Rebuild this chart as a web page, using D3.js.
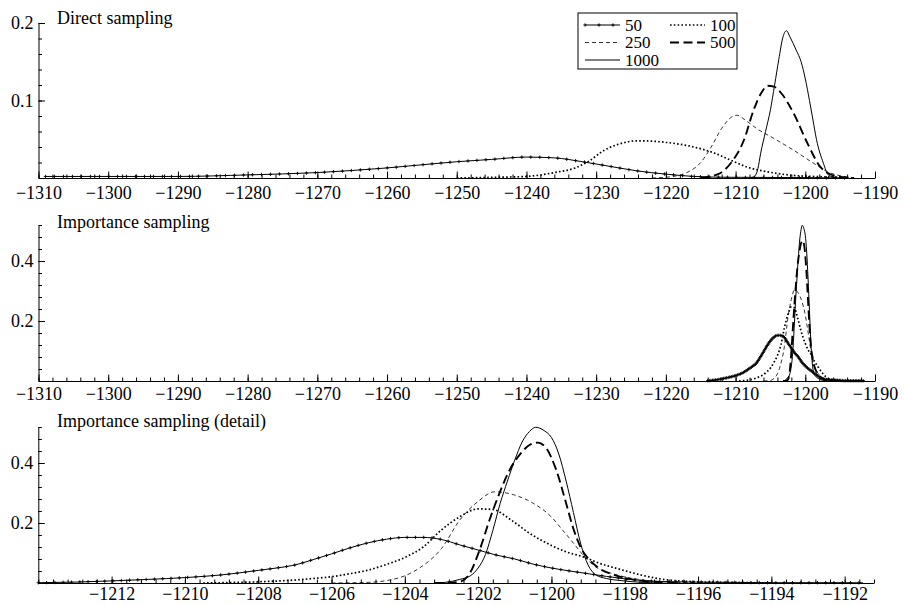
<!DOCTYPE html>
<html lang="en">
<head>
<meta charset="UTF-8">
<title>Direct vs importance sampling</title>
<script src="https://cdn.jsdelivr.net/npm/d3@7"></script>
<style>
  body { margin: 0; background: #fff; }
  .axis path, .axis line { stroke: #000; stroke-width: 1; }
  .curve { fill: none; stroke: #000; }
</style>
</head>
<body>
<svg width="904" height="605"></svg>
<script>
// sample sizes shown in the legend
const sampleSizes = ["50", "100", "250", "500", "1000"];
const panelTitles = ["Direct sampling", "Importance sampling", "Importance sampling (detail)"];

// direct sampling densities, [x, density]
const direct50 = [[-1309, 0.002], [-1300, 0.002], [-1290, 0.002], [-1280, 0.004], [-1270, 0.007],
  [-1260, 0.013], [-1250, 0.021], [-1245, 0.024], [-1240, 0.027], [-1236, 0.026], [-1232, 0.021],
  [-1228, 0.015], [-1224, 0.009], [-1220, 0.005], [-1216, 0.002], [-1212, 0.001], [-1200, 0.0005], [-1194, 0]];
const direct100 = [[-1250, 0], [-1244, 0.001], [-1240, 0.002], [-1236, 0.007], [-1233, 0.013], [-1231, 0.022],
  [-1229, 0.035], [-1227, 0.043], [-1224, 0.048], [-1220, 0.046], [-1216, 0.04], [-1213, 0.032],
  [-1210.7, 0.023], [-1208.3, 0.014], [-1205.4, 0.008], [-1202.5, 0.004], [-1199, 0.002], [-1195, 0.001], [-1193, 0]];
const direct250 = [[-1222, 0], [-1219, 0.002], [-1217, 0.007], [-1215, 0.02], [-1213.5, 0.04], [-1212, 0.064],
  [-1210.5, 0.079], [-1209.8, 0.081], [-1208.5, 0.074], [-1207, 0.064], [-1204.5, 0.051], [-1201.7, 0.036],
  [-1198.8, 0.019], [-1196.8, 0.008], [-1194.5, 0.002], [-1193, 0]];
const direct500 = [[-1215, 0], [-1212.5, 0.005], [-1210.7, 0.019], [-1208.8, 0.049], [-1207.4, 0.088],
  [-1206.3, 0.11], [-1205.4, 0.119], [-1204.5, 0.118], [-1203.5, 0.11], [-1201.7, 0.084], [-1199.7, 0.045],
  [-1197.8, 0.014], [-1195.4, 0.002], [-1193, 0]];
const direct1000 = [[-1208, 0], [-1207.3, 0.002], [-1206.8, 0.012], [-1206.4, 0.032], [-1205.7, 0.06],
  [-1205, 0.088], [-1204.4, 0.12], [-1203.8, 0.153], [-1203.2, 0.182], [-1202.7, 0.19], [-1202.2, 0.182],
  [-1201.3, 0.165], [-1200.6, 0.15], [-1200, 0.128], [-1199.4, 0.1], [-1198.9, 0.075], [-1198.4, 0.05],
  [-1197.4, 0.019], [-1196.7, 0.004], [-1195.5, 0]];

// importance sampling densities, [x, density]
const imp50 = [[-1214, 0.001], [-1213, 0.003], [-1212, 0.007], [-1211, 0.012], [-1210, 0.018], [-1209, 0.027],
  [-1208, 0.042], [-1207.5, 0.05], [-1207, 0.06], [-1206.5, 0.078], [-1206, 0.097], [-1205.5, 0.117],
  [-1205, 0.134], [-1204.5, 0.146], [-1204, 0.152], [-1203.5, 0.152], [-1203, 0.145], [-1202.5, 0.127],
  [-1202, 0.11], [-1201.5, 0.093], [-1201, 0.08], [-1200.5, 0.063], [-1200, 0.05], [-1199.5, 0.04],
  [-1199, 0.031], [-1198.5, 0.022], [-1198, 0.014], [-1197.5, 0.008], [-1197, 0.005], [-1196, 0.003],
  [-1195, 0.002], [-1194, 0.001], [-1192, 0.001], [-1191.5, 0.0005]];
const imp100 = [[-1209.5, 0], [-1209, 0.001], [-1208, 0.004], [-1207, 0.01], [-1206.5, 0.015], [-1206, 0.021],
  [-1205.5, 0.031], [-1205, 0.043], [-1204.5, 0.062], [-1204, 0.085], [-1203.5, 0.12], [-1203, 0.177],
  [-1202.5, 0.221], [-1202, 0.247], [-1201.6, 0.245], [-1201.1, 0.21], [-1200.6, 0.166], [-1200, 0.125],
  [-1199.6, 0.104], [-1199.1, 0.086], [-1198.7, 0.066], [-1198.2, 0.048], [-1197.5, 0.025], [-1197, 0.013],
  [-1196.5, 0.007], [-1196, 0.004], [-1195, 0.002], [-1194, 0]];
const imp250 = [[-1206, 0], [-1205, 0.002], [-1204.5, 0.008], [-1204, 0.024], [-1203.6, 0.05], [-1203, 0.115],
  [-1202.5, 0.21], [-1202, 0.272], [-1201.55, 0.304], [-1201, 0.293], [-1200.5, 0.266], [-1200, 0.22],
  [-1199.7, 0.177], [-1199.4, 0.133], [-1199.1, 0.088], [-1198.8, 0.054], [-1198.3, 0.03], [-1197.5, 0.01],
  [-1197, 0.004], [-1196, 0.001], [-1195.5, 0]];
const imp500 = [[-1203.2, 0], [-1202.8, 0.001], [-1202.5, 0.004], [-1202.23, 0.032], [-1201.96, 0.11],
  [-1201.69, 0.21], [-1201.42, 0.299], [-1201.14, 0.377], [-1200.87, 0.427], [-1200.6, 0.46],
  [-1200.37, 0.468], [-1200.14, 0.449], [-1199.87, 0.377], [-1199.6, 0.266], [-1199.42, 0.188],
  [-1199.19, 0.116], [-1198.96, 0.077], [-1198.7, 0.049], [-1198.3, 0.027], [-1197.8, 0.012],
  [-1197.2, 0.004], [-1196.5, 0]];
const imp1000 = [[-1203.2, 0], [-1202.9, 0.002], [-1202.5, 0.012], [-1202.2, 0.025], [-1202, 0.05],
  [-1201.8, 0.095], [-1201.6, 0.175], [-1201.4, 0.265], [-1201.2, 0.34], [-1201, 0.41], [-1200.8, 0.47],
  [-1200.6, 0.505], [-1200.43, 0.519], [-1200.2, 0.508], [-1200, 0.485], [-1199.8, 0.43], [-1199.6, 0.34],
  [-1199.4, 0.235], [-1199.2, 0.13], [-1199, 0.06], [-1198.8, 0.028], [-1198.5, 0.015], [-1198.1, 0.008],
  [-1197.5, 0.002], [-1197, 0]];

const directSeries = [direct50, direct100, direct250, direct500, direct1000];
const importanceSeries = [imp50, imp100, imp250, imp500, imp1000];

// line style per sample size
const styles = {
  "50":   {width: 1,   dash: null,      plus: true},
  "100":  {width: 1.7, dash: "1.6 2.2", plus: false},
  "250":  {width: 0.8, dash: "4 3",     plus: false},
  "500":  {width: 1.9, dash: "9 4.5",   plus: false},
  "1000": {width: 1,   dash: null,      plus: false}
};

const FONT = "'Liberation Serif', 'DejaVu Serif', 'Times New Roman', Times, serif";

const svg = d3.select("svg")
    .attr("font-family", FONT)
    .style("font-family", FONT);
const fmtY = d3.format(".1f");

const panels = [
  {title: panelTitles[0], base: 178, top: 23, titleY: 24, xDomain: [-1310, -1190], xRange: [38.5, 875],
   yMax: 0.2, yMajor: [0.1, 0.2], yMinor: d3.range(0, 0.201, 0.02), pad: 8,
   xMajor: d3.range(-1310, -1189, 10), xMinor: d3.range(-1310, -1189, 2), series: directSeries, gap: 9},
  {title: panelTitles[1], base: 381, top: 225, titleY: 228, xDomain: [-1310, -1190], xRange: [38.5, 875],
   yMax: 0.52, yMajor: [0.2, 0.4], yMinor: d3.range(0, 0.521, 0.04), pad: 6,
   xMajor: d3.range(-1310, -1189, 10), xMinor: d3.range(-1310, -1189, 2), series: importanceSeries, gap: 1.6},
  {title: panelTitles[2], base: 583, top: 427, titleY: 427, xDomain: [-1214, -1191.2], xRange: [38.3, 874],
   yMax: 0.52, yMajor: [0.2, 0.4], yMinor: d3.range(0, 0.521, 0.04), pad: 4,
   xMajor: d3.range(-1212, -1191, 2), xMinor: d3.range(-1214, -1191.1, 0.4), series: importanceSeries, gap: 8.3}
];

function addPlus(g, node, gap, arm) {
  const len = node.getTotalLength();
  const pts = d3.range(0, len, gap).map(l => node.getPointAtLength(l));
  g.selectAll(null).data(pts).join("path")
    .attr("d", p => `M${p.x - arm},${p.y}h${2 * arm}M${p.x},${p.y - arm}v${2 * arm}`)
    .attr("stroke", "#000")
    .attr("stroke-width", 0.9)
    .attr("fill", "none");
}

function styleAxis(a) {
  a.attr("font-family", FONT).attr("font-size", 18);
  a.selectAll("text").attr("fill", "#000");
}

panels.forEach(p => {
  const x = d3.scaleLinear().domain(p.xDomain).range(p.xRange);
  const y = d3.scaleLinear().domain([0, p.yMax]).range([p.base, p.top]);
  const g = svg.append("g");

  const line = d3.line()
    .x(d => x(d[0]))
    .y(d => y(d[1]))
    .curve(d3.curveMonotoneX);

  p.series.forEach((data, i) => {
    const st = styles[sampleSizes[i]];
    const path = g.append("path")
      .datum(data)
      .attr("class", "curve")
      .attr("d", line)
      .attr("stroke-width", st.width)
      .attr("stroke-dasharray", st.dash);
    if (st.plus) addPlus(g, path.node(), p.gap, 1.7);
  });

  // x axis: minor then major ticks, pointing up
  g.append("g")
    .attr("class", "axis")
    .attr("transform", `translate(0,${p.base})`)
    .call(d3.axisBottom(x).tickValues(p.xMinor).tickSize(-3.5).tickSizeOuter(0).tickFormat(""));
  g.append("g")
    .attr("class", "axis")
    .attr("transform", `translate(0,${p.base})`)
    .call(d3.axisBottom(x).tickValues(p.xMajor).tickSize(-6.5).tickSizeOuter(0).tickPadding(p.pad).tickFormat(d3.format("d")))
    .call(a => a.select(".domain").remove())
    .call(styleAxis);

  // y axis: ticks pointing right
  g.append("g")
    .attr("class", "axis")
    .attr("transform", `translate(${p.xRange[0]},0)`)
    .call(d3.axisLeft(y).tickValues(p.yMinor).tickSize(-3.5).tickSizeOuter(0).tickFormat(""));
  g.append("g")
    .attr("class", "axis")
    .attr("transform", `translate(${p.xRange[0]},0)`)
    .call(d3.axisLeft(y).tickValues(p.yMajor).tickSize(-6.5).tickSizeOuter(0).tickPadding(5).tickFormat(fmtY))
    .call(a => a.select(".domain").remove())
    .call(styleAxis);

  g.append("text")
    .attr("x", 57)
    .attr("y", p.titleY)
    .attr("font-size", 18)
    .attr("fill", "#000")
    .text(p.title);
});

// legend box in the top panel
const legend = svg.append("g").attr("transform", "translate(578,13)");
legend.append("rect")
  .attr("width", 159).attr("height", 56)
  .attr("fill", "#fff").attr("stroke", "#000").attr("stroke-width", 1);

sampleSizes.forEach((s, i) => {
  const col = i % 2, row = Math.floor(i / 2);
  const x0 = 7 + col * 85, yy = 12 + row * 17.5;
  const st = styles[s];
  const sample = legend.append("path")
    .attr("class", "curve")
    .attr("d", `M${x0},${yy}h35`)
    .attr("stroke-width", st.width)
    .attr("stroke-dasharray", st.dash);
  if (st.plus) addPlus(legend.append("g"), sample.node(), 14, 1.7);
  legend.append("text")
    .attr("x", x0 + 40)
    .attr("y", yy)
    .attr("dy", "0.35em")
    .attr("font-size", 17)
    .attr("fill", "#000")
    .text(s);
});
</script>
</body>
</html>
